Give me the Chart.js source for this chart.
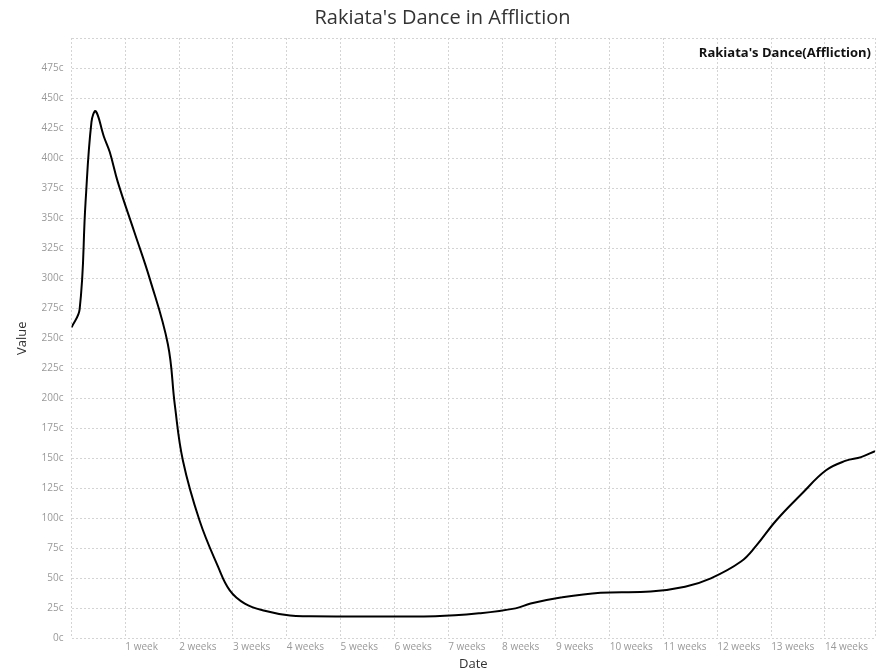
<!DOCTYPE html>
<html>
<head>
<meta charset="utf-8">
<script src="https://cdn.jsdelivr.net/npm/chart.js@4"></script>
<style>
  body { margin: 0; background: #fff; }
  #wrap { width: 889px; height: 672px; }
</style>
</head>
<body>
<div id="wrap"><canvas id="chart"></canvas></div>
<script>
const seriesLabel = "Rakiata's Dance(Affliction)";
const weeks  = [0, 0.15, 0.26, 0.37, 0.45, 0.6, 0.71, 0.86, 1.17, 1.45, 1.79, 1.92, 2.07, 2.38, 2.72, 2.94, 3.22, 3.59, 4.06, 4.43, 6.76, 7.6, 8.25, 8.53, 9.09, 9.83, 10.76, 11.4, 11.88, 12.44, 12.72, 13.09, 13.56, 14.02, 14.39, 14.67, 14.93];
const values = [259, 274, 363, 430, 439, 418, 405, 380, 338, 300, 245, 194, 148, 98, 60, 40, 29, 23, 19, 18.5, 18.5, 21, 25, 29, 34, 38, 39, 43, 50, 64, 77, 98, 120, 140, 148, 151, 156];

Chart.defaults.font.family = '"Open Sans", sans-serif';

// legend text drawn inside the plot, top right
const innerLegend = {
  id: 'innerLegend',
  afterDraw(chart) {
    const { ctx, chartArea } = chart;
    ctx.save();
    ctx.font = 'bold 13px "Open Sans", sans-serif';
    ctx.fillStyle = '#111';
    ctx.textAlign = 'right';
    ctx.textBaseline = 'middle';
    ctx.fillText(chart.data.datasets[0].label, chartArea.right - 4, chartArea.top + 15);
    ctx.restore();
  }
};

new Chart(document.getElementById('chart'), {
  type: 'line',
  data: {
    datasets: [{
      label: seriesLabel,
      data: weeks.map((w, i) => ({ x: w, y: values[i] })),
      borderColor: '#000',
      borderWidth: 2,
      pointRadius: 0,
      tension: 0.4,
      fill: false
    }]
  },
  options: {
    responsive: true,
    maintainAspectRatio: false,
    animation: false,
    layout: { padding: { left: 10, right: 14, bottom: 0 } },
    plugins: {
      legend: { display: false },
      tooltip: { enabled: false },
      title: {
        display: true,
        text: "Rakiata's Dance in Affliction",
        color: '#333',
        font: { size: 20, weight: 'normal' },
        padding: { top: 6, bottom: 8 }
      }
    },
    scales: {
      x: {
        type: 'linear',
        min: 0,
        max: 14.93,
        grid: { color: '#d4d4d4', drawTicks: false },
        border: { dash: [2, 2], display: false },
        ticks: {
          stepSize: 1,
          color: '#999',
          font: { size: 10 },
          align: 'start',
          padding: 3,
          callback: v => (v >= 1 && Number.isInteger(v)) ? v + ' week' + (v > 1 ? 's' : '') : ''
        },
        title: { display: true, text: 'Date', color: '#333', font: { size: 13 }, padding: { top: 0, bottom: 0 } }
      },
      y: {
        min: 0,
        max: 500,
        grid: { color: '#d4d4d4', drawTicks: false },
        border: { dash: [2, 2], display: false },
        ticks: {
          stepSize: 25,
          color: '#999',
          font: { size: 10 },
          padding: 8,
          callback: v => v < 500 ? v + 'c' : ''
        },
        title: { display: true, text: 'Value', color: '#333', font: { size: 13 } }
      }
    }
  },
  plugins: [innerLegend]
});
</script>
</body>
</html>
